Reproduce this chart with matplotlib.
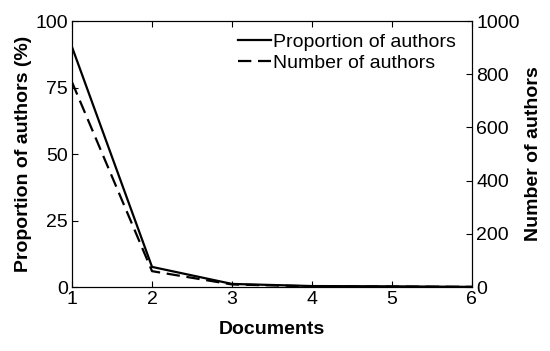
import numpy as np
import matplotlib.pyplot as plt

plt.rcParams['font.family'] = ['Liberation Sans', 'DejaVu Sans']

documents = [1, 2, 3, 4, 5, 6]
proportion = [90.2, 7.6, 1.2, 0.4, 0.3, 0.1]
number = [770, 60, 10, 3, 2, 1]

fig = plt.figure(figsize=(5.5, 3.51), dpi=100)
ax = fig.add_axes([0.131, 0.182, 0.727, 0.758])
ax2 = ax.twinx()

l1, = ax.plot(documents, proportion, 'k-', lw=1.6, label='Proportion of authors')
l2, = ax2.plot(documents, number, 'k--', lw=1.6, dashes=(6, 3), label='Number of authors')

ax.set_xlim(1, 6)
ax.set_ylim(0, 100)
ax2.set_ylim(0, 1000)
ax.set_xticks(documents)
ax.set_yticks([0, 25, 50, 75, 100])
ax2.set_yticks(np.arange(0, 1001, 200))

for a in (ax, ax2):
    a.tick_params(direction='in', labelsize=14, length=4, top=True, pad=3)
ax.tick_params(right=False)

ax.set_xlabel('Documents', fontsize=14, fontweight='bold', labelpad=9)
ax.set_ylabel('Proportion of authors (%)', fontsize=14, fontweight='bold', labelpad=2)
ax2.set_ylabel('Number of authors', fontsize=14, fontweight='bold', labelpad=4)

ax.legend([l1, l2], [l1.get_label(), l2.get_label()], loc='upper right',
          bbox_to_anchor=(0.985, 0.99), frameon=False, fontsize=14,
          handlelength=1.7, handletextpad=0.1, borderaxespad=0.1, labelspacing=0.15)

fig.savefig('out.png', dpi=100)
